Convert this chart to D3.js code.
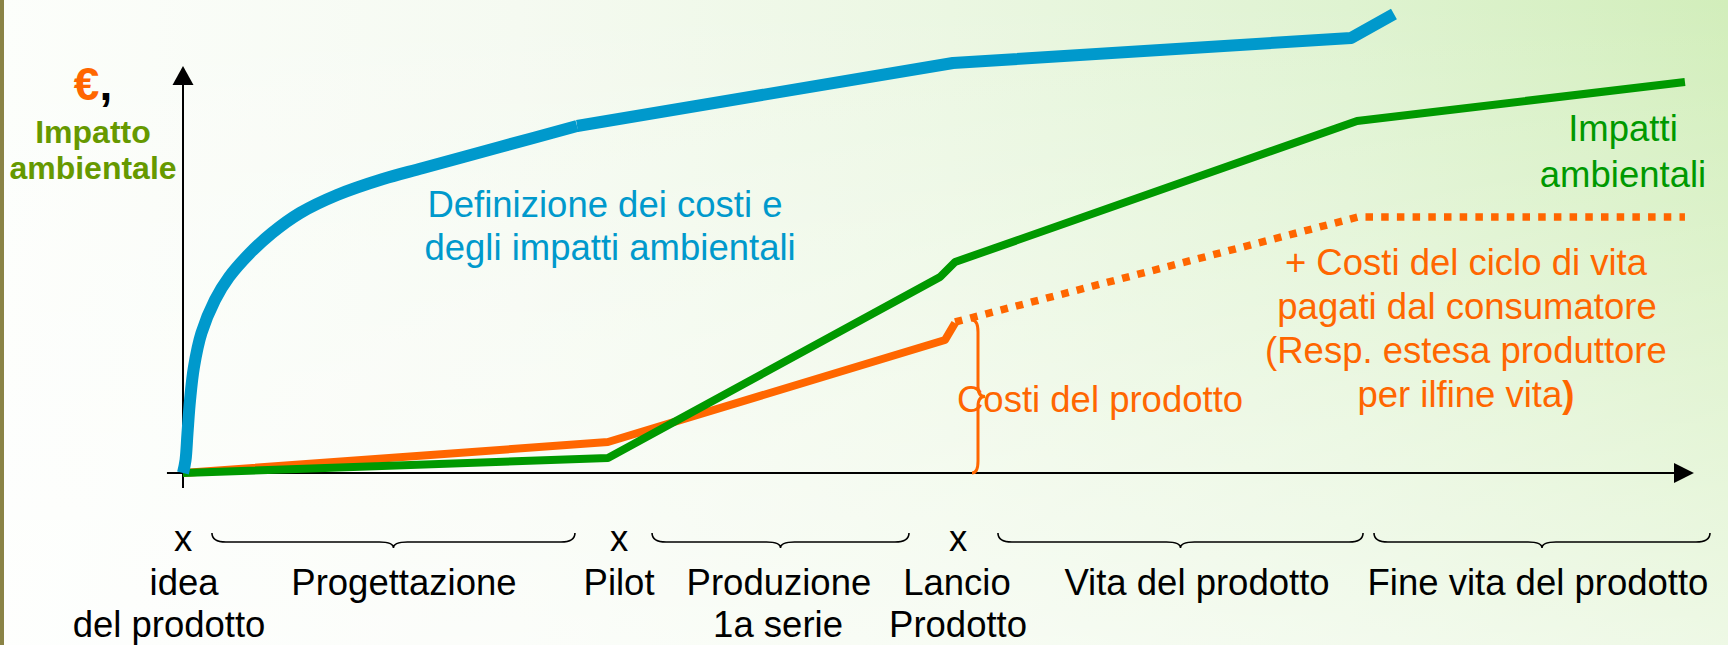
<!DOCTYPE html>
<html>
<head>
<meta charset="utf-8">
<script src="https://cdn.jsdelivr.net/npm/d3@7"></script>
<style>
  html, body { margin: 0; padding: 0; background: #fff; overflow: hidden; }
  svg { display: block; font-family: "Liberation Sans", Arial, sans-serif; }
</style>
</head>
<body>
<div id="chart"></div>
<script>
// ---- data (abstract units: x = time along product life, y = cost / impact) ----
const costDefX  = [0, 0.17, 0.3, 0.47, 0.73, 1.23, 2.13, 3.07, 4.47, 5.93, 7.8, 10.27, 13.33, 16, 21.13, 26.27];
const costDefY  = [0, 3.25, 10, 18.25, 26.5, 35, 43.25, 49, 55, 60, 65, 69.5, 73.5, 76.25, 81.5, 86.75];
const costDefTailX = [26.27, 51.33, 77.87, 80.73];
const costDefTailY = [86.75, 102.5, 108.75, 114.75];

const impactX = [0, 28.33, 50.47, 51.47, 78.27, 100.13];
const impactY = [0, 3.75, 49, 52.75, 88, 97.75];

const productCostX = [0, 28.33, 50.8, 51.47];
const productCostY = [0, 7.75, 33.25, 37.5];

const lifeCostX = [51.47, 78.33, 100.13];
const lifeCostY = [37.75, 64, 64];

// milestones on the time axis
const milestoneX = [0, 29.07, 51.67];
const milestoneNames = [["idea", "del prodotto"], ["Pilot"], ["Lancio", "Prodotto"]];
const milestoneLabelX = [[0.07, -0.93], [29.07], [51.6, 51.67]];

// phases (braces) between milestones
const phaseNames = [["Progettazione"], ["Produzione", "1a serie"], ["Vita del prodotto"], ["Fine vita del prodotto"]];
const phaseStart = [1.93, 31.27, 54.33, 79.4];
const phaseEnd   = [26.13, 48.4, 78.67, 101.8];
const phaseLabelX = [[14.73], [39.73, 39.67], [67.6], [90.33]];

// ---- layout ----
const width = 1728, height = 645;
const blue = "#0099cc", green = "#009900", orange = "#ff6600", olive = "#669900";
const fontSize = 36.5;

const x = d3.scaleLinear().domain([0, 100]).range([183, 1683]);
const y = d3.scaleLinear().domain([0, 100]).range([473, 73]);

const svg = d3.select("#chart").append("svg")
    .attr("width", width)
    .attr("height", height)
    .attr("viewBox", `0 0 ${width} ${height}`);

// background gradients
const defs = svg.append("defs");
const bgH = defs.append("linearGradient").attr("id", "bgH")
    .attr("x1", 0).attr("y1", 0).attr("x2", 1).attr("y2", 0);
[[0, "#fcfefb"], [0.3, "#f5faf1"], [0.55, "#ebf7e2"], [0.78, "#dff3d1"], [1, "#d2eebb"]]
    .forEach(([o, c]) => bgH.append("stop").attr("offset", o).attr("stop-color", c));
const bgV = defs.append("linearGradient").attr("id", "bgV")
    .attr("x1", 0).attr("y1", 0).attr("x2", 0).attr("y2", 1);
bgV.append("stop").attr("offset", 0).attr("stop-color", "#fff").attr("stop-opacity", 0);
bgV.append("stop").attr("offset", 1).attr("stop-color", "#fff").attr("stop-opacity", 0.62);

svg.append("rect").attr("width", width).attr("height", height).attr("fill", "url(#bgH)");
svg.append("rect").attr("width", width).attr("height", height).attr("fill", "url(#bgV)");
svg.append("rect").attr("width", 4).attr("height", height).attr("fill", "#8a8346");

// axes (plain lines with arrow heads)
const axes = svg.append("g").attr("stroke", "#000").attr("stroke-width", 2);
axes.append("line")
    .attr("x1", x(-1.07)).attr("x2", x(99.5))
    .attr("y1", y(0)).attr("y2", y(0));
axes.append("line")
    .attr("x1", x(0)).attr("x2", x(0))
    .attr("y1", y(-3.75)).attr("y2", y(97));
svg.append("path")
    .attr("d", `M${x(100.73)},${y(0)} L${x(99.4)},${y(0) - 10} L${x(99.4)},${y(0) + 10} Z`)
    .attr("fill", "#000");
svg.append("path")
    .attr("d", `M${x(0)},${y(101.75)} L${x(0) - 10.5},${y(97)} L${x(0) + 10.5},${y(97)} Z`)
    .attr("fill", "#000");

// series
const zip = (xs, ys) => xs.map((v, i) => [v, ys[i]]);
const curved = d3.line().x(d => x(d[0])).y(d => y(d[1])).curve(d3.curveCatmullRom.alpha(0.5));
const straight = d3.line().x(d => x(d[0])).y(d => y(d[1]));

const lines = svg.append("g").attr("fill", "none").attr("stroke-linejoin", "round");

lines.append("path")
    .attr("d", straight(zip(productCostX, productCostY)))
    .attr("stroke", orange).attr("stroke-width", 8);
lines.append("path")
    .attr("d", straight(zip(lifeCostX, lifeCostY)))
    .attr("stroke", orange).attr("stroke-width", 7.5)
    .attr("stroke-linejoin", "miter")
    .attr("stroke-dasharray", "7.5 8.2");
lines.append("path")
    .attr("d", straight(zip(impactX, impactY)))
    .attr("stroke", green).attr("stroke-width", 8);
lines.append("path")
    .attr("d", curved(zip(costDefX, costDefY)))
    .attr("stroke", blue).attr("stroke-width", 12);
lines.append("path")
    .attr("d", straight(zip(costDefTailX, costDefTailY)))
    .attr("stroke", blue).attr("stroke-width", 12);

// vertical brace for "Costi del prodotto"
{
  const bx = x(53), top = y(lifeCostY[0] + 0.5), bot = y(0), mid = (top + bot) / 2;
  svg.append("path")
    .attr("d", `M${bx - 6},${top} Q${bx},${top} ${bx},${top + 12} L${bx},${mid - 10}
                Q${bx},${mid} ${bx + 7},${mid} Q${bx},${mid} ${bx},${mid + 10}
                L${bx},${bot - 12} Q${bx},${bot} ${bx - 6},${bot}`)
    .attr("fill", "none").attr("stroke", orange).attr("stroke-width", 3);
}

// horizontal braces under the axis
function brace(x0, x1, y0) {
  const m = (x0 + x1) / 2, r = 14, ym = y0 + 9, yt = y0 + 15;
  return `M${x0},${y0} Q${x0},${ym} ${x0 + r},${ym} L${m - r},${ym} Q${m},${ym} ${m},${yt}
          Q${m},${ym} ${m + r},${ym} L${x1 - r},${ym} Q${x1},${ym} ${x1},${y0}`;
}
svg.append("g").selectAll("path")
  .data(phaseStart)
  .join("path")
    .attr("d", (d, i) => brace(x(d), x(phaseEnd[i]), y(0) + 60))
    .attr("fill", "none").attr("stroke", "#000").attr("stroke-width", 1.6);

// text helpers
function multiline(g, rows, xs, baseY, step, color) {
  rows.forEach((t, i) => {
    g.append("text")
      .attr("x", x(xs[i]))
      .attr("y", baseY + i * step)
      .attr("text-anchor", "middle")
      .attr("font-size", fontSize)
      .attr("fill", color)
      .text(t);
  });
}

const labels = svg.append("g");
milestoneX.forEach((m, i) => {
  labels.append("text")
    .attr("x", x(m)).attr("y", y(0) + 78)
    .attr("text-anchor", "middle").attr("font-size", fontSize).text("x");
  multiline(labels, milestoneNames[i], milestoneLabelX[i], y(0) + 122, 42, "#000");
});
phaseNames.forEach((p, i) => multiline(labels, p, phaseLabelX[i], y(0) + 122, 42, "#000"));

// annotations
multiline(svg, ["Definizione dei costi e", "degli impatti ambientali"], [28.13, 28.47], y(64), 43, blue);
multiline(svg, ["Impatti", "ambientali"], [96, 96], y(83), 46, green);
multiline(svg, ["+ Costi del ciclo di vita", "pagati dal consumatore", "(Resp. estesa produttore"],
          [85.53, 85.6, 85.53], y(49.5), 44, orange);
svg.append("text")
    .attr("x", x(85.53)).attr("y", y(49.5) + 3 * 44)
    .attr("text-anchor", "middle").attr("font-size", fontSize).attr("fill", orange)
    .call(t => {
      t.append("tspan").text("per ilfine vita");
      t.append("tspan").attr("font-weight", "bold").text(")");
    });
svg.append("text")
    .attr("x", x(51.6)).attr("y", y(15.25))
    .attr("font-size", fontSize).attr("fill", orange)
    .text("Costi del prodotto");

// y axis title
const yTitle = svg.append("g").attr("text-anchor", "middle").attr("font-weight", "bold");
yTitle.append("text")
    .attr("x", 93).attr("y", 100).attr("font-size", 46)
    .call(t => {
      t.append("tspan").attr("fill", orange).text("€");
      t.append("tspan").attr("fill", "#000").text(",");
    });
yTitle.append("text").attr("x", 93).attr("y", 143).attr("font-size", 32).attr("fill", olive).text("Impatto");
yTitle.append("text").attr("x", 93).attr("y", 179).attr("font-size", 32).attr("fill", olive).text("ambientale");
</script>
</body>
</html>
